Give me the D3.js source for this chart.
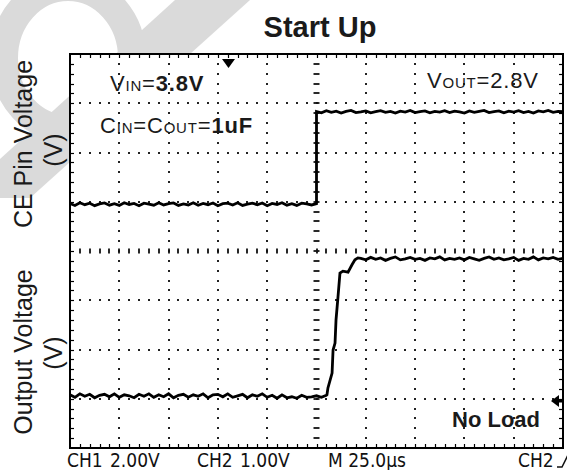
<!DOCTYPE html>
<html>
<head>
<meta charset="utf-8">
<script src="https://cdn.jsdelivr.net/npm/d3@7"></script>
<style>
    html, body { margin: 0; padding: 0; background: #fff; }
    svg { display: block; }
    .label { font-family: "Liberation Sans", Arial, sans-serif; fill: #1a1a1a; }
    .scope { font-family: "Liberation Sans Narrow", "DejaVu Sans Condensed", "Arial Narrow", sans-serif; fill: #111; }
</style>
</head>
<body>
<svg id="chart"></svg>
<script>
// 時間軸 (µs, 25µs/div)
const TIME_DOMAIN = [-125, 125];

// CH1: CEピン電圧 (V)
const CE_TIMES = [-125, -122.5, -120, -117.5, -115, -112.5, -110, -107.5, -105, -102.5, -100, -97.5, -95, -92.5, -90, -87.5, -85, -82.5, -80, -77.5,
    -75, -72.5, -70, -67.5, -65, -62.5, -60, -57.5, -55, -52.5, -50, -47.5, -45, -42.5, -40, -37.5, -35, -32.5, -30, -27.5,
    -25, -22.5, -20, -17.5, -15, -12.5, -10, -7.5, -5, -2.5, 0,
    0, 2.5, 5, 7.5, 10, 12.5, 15, 17.5, 20, 22.5, 25, 27.5, 30, 32.5, 35, 37.5, 40, 42.5, 45, 47.5,
    50, 52.5, 55, 57.5, 60, 62.5, 65, 67.5, 70, 72.5, 75, 77.5, 80, 82.5, 85, 87.5, 90, 92.5, 95, 97.5,
    100, 102.5, 105, 107.5, 110, 112.5, 115, 117.5, 120, 122.5, 125];
const CE_VOLTS = [0.03, -0.05, 0.06, -0.02, 0.04, -0.06, 0.01, 0.05, -0.04, 0.02, -0.05, 0.06, -0.01, 0.03, -0.06, 0.04, 0.00, -0.04, 0.06, -0.03,
    0.02, 0.05, -0.05, 0.01, -0.03, 0.06, -0.04, 0.03, -0.02, 0.05, -0.06, 0.02, 0.04, -0.03, 0.06, -0.05, 0.00, 0.04, -0.02, 0.05,
    -0.06, 0.03, -0.01, 0.06, -0.04, 0.02, -0.05, 0.04, 0.01, -0.03, 0.02,
    3.76, 3.71, 3.80, 3.73, 3.78, 3.70, 3.77, 3.81, 3.72, 3.75, 3.79, 3.71, 3.76, 3.80, 3.73, 3.77, 3.70, 3.78, 3.74, 3.81,
    3.72, 3.76, 3.79, 3.71, 3.77, 3.74, 3.80, 3.72, 3.78, 3.75, 3.70, 3.79, 3.73, 3.77, 3.81, 3.72, 3.76, 3.79, 3.71, 3.78,
    3.74, 3.80, 3.72, 3.77, 3.70, 3.79, 3.75, 3.81, 3.73, 3.77, 3.76];

// CH2: 出力電圧 (V)
const OUT_TIMES = [-125, -122.5, -120, -117.5, -115, -112.5, -110, -107.5, -105, -102.5, -100, -97.5, -95, -92.5, -90, -87.5, -85, -82.5, -80, -77.5,
    -75, -72.5, -70, -67.5, -65, -62.5, -60, -57.5, -55, -52.5, -50, -47.5, -45, -42.5, -40, -37.5, -35, -32.5, -30, -27.5,
    -25, -22.5, -20, -17.5, -15, -12.5, -10, -7.5, -5, -2.5, 0, 2.5, 5, 5.3,
    5.8, 7.9, 8.4, 9.4, 9.9, 10.9, 11.9, 13.4, 16.0, 18.0, 19.5, 21.0,
    22.5, 25, 27.5, 30, 32.5, 35, 37.5, 40, 42.5, 45, 47.5, 50, 52.5, 55, 57.5, 60, 62.5, 65, 67.5, 70,
    72.5, 75, 77.5, 80, 82.5, 85, 87.5, 90, 92.5, 95, 97.5, 100, 102.5, 105, 107.5, 110, 112.5, 115, 117.5, 120,
    122.5, 125];
const OUT_VOLTS = [0.02, -0.03, 0.04, -0.01, 0.03, -0.04, 0.01, 0.03, -0.02, 0.04, -0.03, 0.02, 0.00, -0.04, 0.03, -0.01, 0.04, -0.03, 0.02, -0.02,
    0.04, -0.04, 0.01, 0.03, -0.03, 0.02, -0.01, 0.04, -0.04, 0.02, 0.03, -0.02, 0.04, -0.03, 0.00, 0.03, -0.04, 0.02, -0.01, 0.04,
    -0.03, 0.01, -0.05, 0.02, -0.04, -0.02, -0.05, 0.01, -0.03, -0.02, 0.00, -0.03, 0.01, 0.02,
    0.16, 0.46, 0.93, 1.07, 1.54, 2.01, 2.49, 2.53, 2.51, 2.66, 2.76, 2.80,
    2.79, 2.76, 2.81, 2.77, 2.80, 2.75, 2.79, 2.82, 2.76, 2.78, 2.81, 2.77, 2.79, 2.75, 2.80, 2.78, 2.82, 2.76, 2.79, 2.77,
    2.80, 2.76, 2.81, 2.78, 2.75, 2.79, 2.82, 2.77, 2.80, 2.76, 2.78, 2.81, 2.75, 2.79, 2.77, 2.82, 2.76, 2.80, 2.78, 2.81,
    2.77, 2.79];

// チャンネル設定 (V/div, 基準位置 div)
const CH1_VDIV = 2.0, CH1_OFFSET = 0.95;
const CH2_VDIV = 1.0, CH2_OFFSET = -2.94;

// 下部ステータス表示
const STATUS_LABELS = ['CH1', '2.00V', 'CH2', '1.00V', 'M 25.0\u00b5s', 'CH2'];

class ScopeChart {
    constructor() {
        this.width = 567;
        this.height = 470;
        this.plot = { left: 70, right: 563, top: 54, bottom: 448 };
        this.init();
    }

    init() {
        this.svg = d3.select('#chart')
            .attr('width', this.width)
            .attr('height', this.height);

        this.xScale = d3.scaleLinear()
            .domain(TIME_DOMAIN)
            .range([this.plot.left, this.plot.right]);

        // 縦方向は div 単位 (8 div)
        this.yScale = d3.scaleLinear()
            .domain([-4, 4])
            .range([this.plot.bottom, this.plot.top]);

        this.renderWatermark();
        this.renderFrame();
        this.renderGrid();
        this.renderTraces();
        this.renderMarkers();
        this.renderLabels();
    }

    renderWatermark() {
        const g = this.svg.append('g').attr('fill', '#dadada');
        g.append('ellipse')
            .attr('cx', 68).attr('cy', 58)
            .attr('rx', 64).attr('ry', 71)
            .attr('fill', 'none')
            .attr('stroke', '#dadada')
            .attr('stroke-width', 28);
        g.append('polygon')
            .attr('points', '175,0 250,0 30,198 0,198 0,159');
    }

    renderFrame() {
        const p = this.plot;
        this.svg.append('rect')
            .attr('x', p.left).attr('y', p.top)
            .attr('width', p.right - p.left)
            .attr('height', p.bottom - p.top)
            .attr('fill', '#fff')
            .attr('stroke', '#000')
            .attr('stroke-width', 2);
    }

    renderGrid() {
        const p = this.plot;
        const g = this.svg.append('g');
        const xMinor = d3.range(0, 51).map(i => TIME_DOMAIN[0] + i * 5);
        const yMinor = d3.range(0, 41).map(i => -4 + i * 0.2);
        const xMajor = d3.range(-100, 101, 25);
        const yMajor = d3.range(-3, 4, 1);

        const dot = (x, y) => {
            g.append('rect')
                .attr('x', Math.round(x) - 1).attr('y', Math.round(y) - 1)
                .attr('width', 2).attr('height', 2)
                .attr('fill', '#222');
        };

        // 点線グリッド
        xMajor.filter(t => t !== 0).forEach(t => {
            yMinor.slice(1, -1).forEach(d => dot(this.xScale(t), this.yScale(d)));
        });
        yMajor.filter(d => d !== 0).forEach(d => {
            xMinor.slice(1, -1).forEach(t => dot(this.xScale(t), this.yScale(d)));
        });

        // 中央軸の目盛り
        yMinor.slice(1, -1).forEach(d => {
            const y = Math.round(this.yScale(d));
            g.append('line')
                .attr('x1', this.xScale(0) - 3).attr('x2', this.xScale(0) + 3)
                .attr('y1', y).attr('y2', y)
                .attr('stroke', '#111').attr('stroke-width', 1.8);
        });
        xMinor.slice(1, -1).forEach(t => {
            const x = Math.round(this.xScale(t));
            g.append('line')
                .attr('x1', x).attr('x2', x)
                .attr('y1', this.yScale(0) - 2.5).attr('y2', this.yScale(0) + 2.5)
                .attr('stroke', '#111').attr('stroke-width', 1.8);
        });

        // 枠の内向き目盛り
        xMinor.slice(1, -1).forEach(t => {
            const x = Math.round(this.xScale(t)) + 0.5;
            g.append('line').attr('x1', x).attr('x2', x)
                .attr('y1', p.top).attr('y2', p.top + 4)
                .attr('stroke', '#000').attr('stroke-width', 1.2);
            g.append('line').attr('x1', x).attr('x2', x)
                .attr('y1', p.bottom).attr('y2', p.bottom - 4)
                .attr('stroke', '#000').attr('stroke-width', 1.2);
        });
        yMinor.slice(1, -1).forEach(d => {
            const y = Math.round(this.yScale(d)) + 0.5;
            g.append('line').attr('x1', p.left).attr('x2', p.left + 4)
                .attr('y1', y).attr('y2', y)
                .attr('stroke', '#000').attr('stroke-width', 1.2);
            g.append('line').attr('x1', p.right).attr('x2', p.right - 4)
                .attr('y1', y).attr('y2', y)
                .attr('stroke', '#000').attr('stroke-width', 1.2);
        });
    }

    renderTraces() {
        const ch1 = CE_TIMES.map((t, i) => [t, CE_VOLTS[i] / CH1_VDIV + CH1_OFFSET]);
        const ch2 = OUT_TIMES.map((t, i) => [t, OUT_VOLTS[i] / CH2_VDIV + CH2_OFFSET]);

        const line = d3.line()
            .x(d => this.xScale(d[0]))
            .y(d => this.yScale(d[1]));

        [ch1, ch2].forEach(data => {
            this.svg.append('path')
                .datum(data)
                .attr('d', line)
                .attr('fill', 'none')
                .attr('stroke', '#000')
                .attr('stroke-width', 2.8)
                .attr('stroke-linejoin', 'miter');
        });
    }

    renderMarkers() {
        // トリガ位置
        this.svg.append('polygon')
            .attr('points', '222,59 235,59 228.5,68')
            .attr('fill', '#000');
        // トリガレベル
        this.svg.append('polygon')
            .attr('points', '551,401 559,395 559,407')
            .attr('fill', '#000');
        this.svg.append('line')
            .attr('x1', 558).attr('x2', 563)
            .attr('y1', 401).attr('y2', 401)
            .attr('stroke', '#000').attr('stroke-width', 3);
    }

    renderLabels() {
        const svg = this.svg;

        // タイトル
        svg.append('text')
            .attr('class', 'label')
            .attr('x', 320).attr('y', 37)
            .attr('text-anchor', 'middle')
            .attr('font-size', 29)
            .attr('font-weight', 'bold')
            .text('Start Up');

        // 縦軸ラベル
        const yLabel = (text, cx, cy) => {
            svg.append('text')
                .attr('class', 'label')
                .attr('transform', `translate(${cx},${cy}) rotate(-90)`)
                .attr('text-anchor', 'middle')
                .attr('font-size', 25)
                .attr('fill', '#222')
                .text(text);
        };
        yLabel('CE Pin Voltage', 32, 144);
        yLabel('(V)', 62, 150);
        yLabel('Output Voltage', 32, 352);
        yLabel('(V)', 62, 353);

        // 注記
        const note = (parts, x, y) => {
            const t = svg.append('text')
                .attr('class', 'label')
                .attr('x', x).attr('y', y)
                .attr('font-size', 22)
                .attr('letter-spacing', 0.8);
            parts.forEach(([s, size, weight]) => {
                t.append('tspan')
                    .attr('font-size', size)
                    .attr('font-weight', weight)
                    .text(s);
            });
        };
        note([['V', 22, 'normal'], ['IN', 15, 'normal'], ['=', 22, 'normal'], ['3.8V', 22, 'bold']], 110, 91);
        note([['C', 22, 'normal'], ['IN', 15, 'normal'], ['=C', 22, 'normal'], ['OUT', 15, 'normal'], ['=', 22, 'normal'], ['1uF', 22, 'bold']], 100, 133);
        note([['V', 22, 'normal'], ['OUT', 15, 'normal'], ['=2.8V', 22, 'normal']], 427, 88);

        svg.append('text')
            .attr('class', 'label')
            .attr('x', 452).attr('y', 427)
            .attr('font-size', 22)
            .attr('font-weight', 'bold')
            .text('No Load');

        // 下部ステータス
        const statusX = [67, 110, 197, 240, 328, 518];
        STATUS_LABELS.forEach((s, i) => {
            svg.append('text')
                .attr('class', 'scope')
                .attr('x', statusX[i]).attr('y', 467)
                .attr('font-size', 19)
                .text(s);
        });
        // 立ち上がりエッジ記号
        svg.append('path')
            .attr('d', 'M557,467 L562,467 L568,455')
            .attr('fill', 'none')
            .attr('stroke', '#111')
            .attr('stroke-width', 1.5);
    }
}

let scopeChart;
document.addEventListener('DOMContentLoaded', () => {
    scopeChart = new ScopeChart();
});
</script>
</body>
</html>
